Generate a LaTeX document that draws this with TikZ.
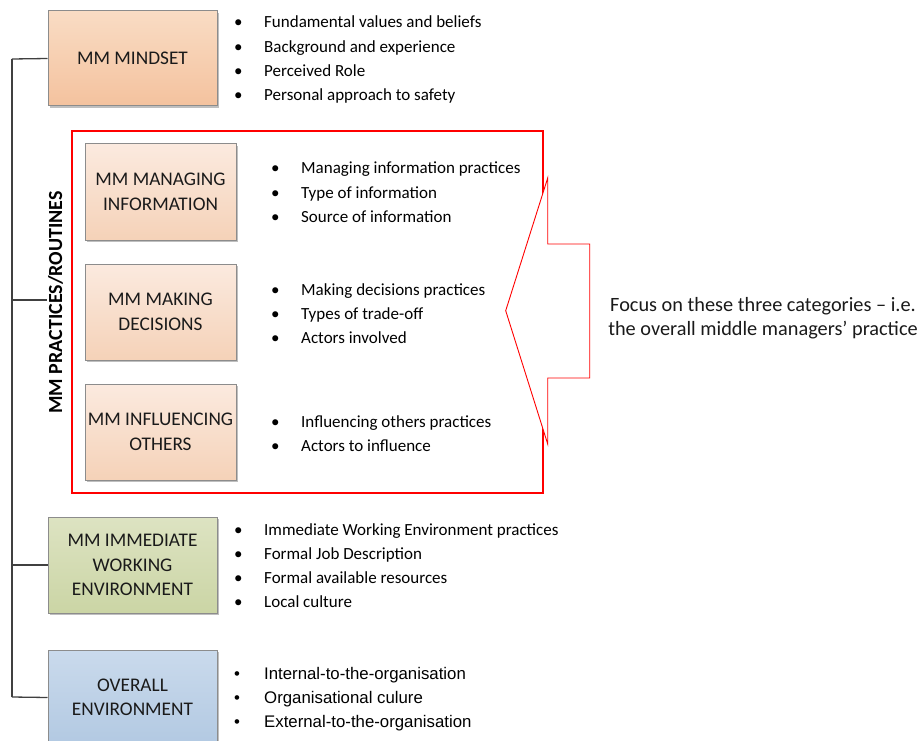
\documentclass[tikz,border=0pt]{standalone}
\usepackage{fontspec}
\setmainfont{Carlito}
\newfontfamily\arialf{Liberation Sans}
\usetikzlibrary{shadows}
\definecolor{mindTop}{HTML}{F9DCC4}
\definecolor{mindBot}{HTML}{F4C29E}
\definecolor{innTop}{HTML}{FBEADF}
\definecolor{innBot}{HTML}{F5D2B8}
\definecolor{grnTop}{HTML}{DDE3C2}
\definecolor{grnBot}{HTML}{CBD5A5}
\definecolor{bluTop}{HTML}{CADAEC}
\definecolor{bluBot}{HTML}{B2C9E2}
\definecolor{boxline}{HTML}{8C8C8C}
\definecolor{trunk}{HTML}{404040}
\definecolor{txt}{HTML}{1A1A1A}
\tikzset{
  catbox/.style={rectangle, draw=boxline, line width=1pt, inner sep=0pt,
    align=center, text=txt, font=\fontsize{19.3}{24.5}\selectfont,
    drop shadow={shadow xshift=2pt, shadow yshift=-2pt, fill=black, opacity=0.25}},
  bigbox/.style={catbox, minimum width=169pt, minimum height=95pt},
  smallbox/.style={catbox, minimum width=151pt, minimum height=96pt, top color=innTop, bottom color=innBot},
  bul/.style={anchor=base west, inner sep=0pt, font=\fontsize{17}{24}\selectfont, text=black},
  abul/.style={bul, font=\arialf\fontsize{16.8}{24}\selectfont},
  link/.style={draw=trunk, line width=1.3pt},
}
\newcommand{\bl}[1]{\makebox[30pt][l]{\textbullet}#1}
\begin{document}
\begin{tikzpicture}[x=1pt,y=-1pt]
\useasboundingbox[fill=white] (0,0) rectangle (921,741);

% trunk coordinates
\coordinate (t1) at (12,59);
\coordinate (t2) at (12,300);
\coordinate (t3) at (12,565);
\coordinate (t4) at (12,697);
\coordinate (c2) at (47,300);

% boxes
\node[bigbox, top color=mindTop, bottom color=mindBot] (mind) at (132.5,58.5) {MM MINDSET};
\node[smallbox] (manage) at (160.5,192) {MM MANAGING\\INFORMATION};
\node[smallbox] (making) at (160.5,312) {MM MAKING\\DECISIONS};
\node[smallbox] (influ) at (160.5,432) {MM INFLUENCING\\OTHERS};
\node[bigbox, minimum height=96pt, top color=grnTop, bottom color=grnBot] (immed) at (132.5,565) {MM IMMEDIATE\\WORKING\\ENVIRONMENT};
\node[bigbox, top color=bluTop, bottom color=bluBot] (overall) at (132.5,697.5) {OVERALL\\ENVIRONMENT};

% connectors
\draw[link] (t1) -- (t4);
\draw[link] (t1) -- (mind.west);
\draw[link] (t3) -- (immed.west);
\draw[link] (t4) -- (overall.west);

% red frame
\draw[red, line width=2.4pt] (72,131) rectangle (543,493);

% rotated label
\node[rotate=90, anchor=base, inner sep=0pt, font=\bfseries\fontsize{20}{24}\selectfont, text=black] (prl) at (62,302.5) {MM PRACTICES/ROUTINES};
\draw[link] (t2) -- (c2);

% bullet lists
\foreach \t [count=\i] in {Fundamental values and beliefs, Background and experience, Perceived Role, Personal approach to safety}
  \node[bul] (mb\i) at (234,{28+24.3*(\i-1)}) {\bl{\t}};
\foreach \t [count=\i] in {Managing information practices, Type of information, Source of information}
  \node[bul] (ib\i) at (271,{174+24*(\i-1)}) {\bl{\t}};
\foreach \t [count=\i] in {Making decisions practices, Types of trade-off, Actors involved}
  \node[bul] (db\i) at (271,{295+24*(\i-1)}) {\bl{\t}};
\foreach \t [count=\i] in {Influencing others practices, Actors to influence}
  \node[bul] (fb\i) at (271,{427+24*(\i-1)}) {\bl{\t}};
\foreach \t [count=\i] in {Immediate Working Environment practices, Formal Job Description, Formal available resources, Local culture}
  \node[bul] (wb\i) at (234,{535+24*(\i-1)}) {\bl{\t}};
\foreach \t [count=\i] in {Internal-to-the-organisation, Organisational culure, External-to-the-organisation}
  \node[abul] (ob\i) at (234,{679+24*(\i-1)}) {\bl{\t}};

% callout arrow
\draw[red, line width=0.9pt, fill=white, line join=miter]
  (505.7,310.7) -- (547.7,178) -- (547.7,244) -- (589.7,244) -- (589.7,378)
  -- (547.7,378) -- (547.7,444) -- cycle;

% focus text
\node[align=center, inner sep=0pt, font=\fontsize{20.3}{24}\selectfont, text=txt] (focus) at (763,318)
  {Focus on these three categories -- i.e.\\the overall middle managers’ practice};
\end{tikzpicture}
\end{document}
